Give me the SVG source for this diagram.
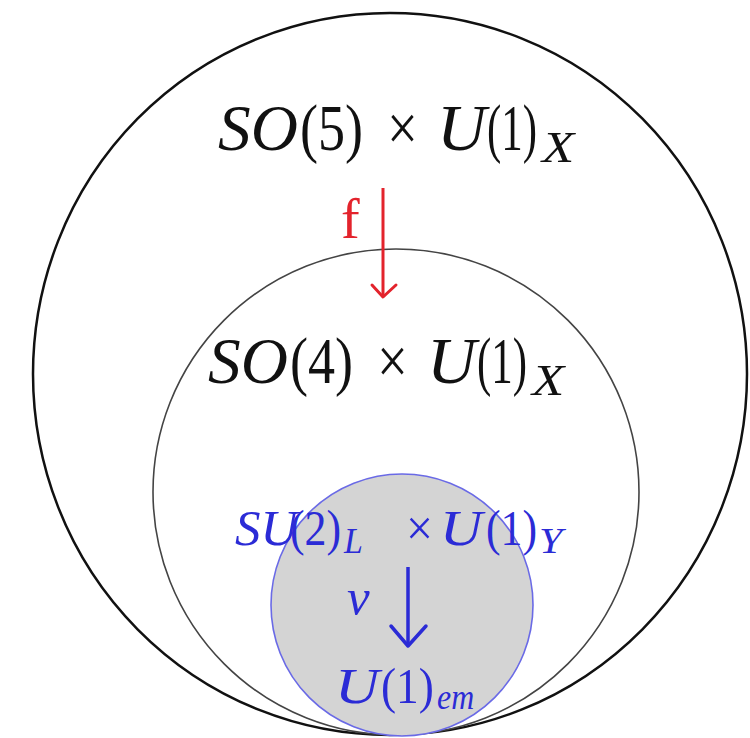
<svg xmlns="http://www.w3.org/2000/svg" width="750" height="738" viewBox="0 0 750 738">
<style>
.t{font-family:"Liberation Serif","DejaVu Serif",serif;}
.i{font-style:italic;}
.blk{fill:#111;font-size:66px;}
.blk.s{font-size:44px;}
.blu{fill:#2b2bd6;font-size:51px;}
.blu.s{font-size:35px;}
.red{fill:#e3232c;}
</style>
<rect width="750" height="738" fill="#fff"/>
<g id="outer">
<ellipse cx="390" cy="374" rx="357" ry="361" fill="none" stroke="#111" stroke-width="2.5"/>
<g id="label-so5">
<text class="t i blk" transform="matrix(0.99,0,0,1,218,150)">SO</text>
<text class="t blk" transform="matrix(0.82,0,0,1,300,150)">(5)</text>
<text class="t blk" transform="matrix(0.83,0,0,1,387,150)">×</text>
<text class="t i blk" transform="matrix(1.03,0,0,1,437,150)">U</text>
<text class="t blk" transform="matrix(0.65,0,0,1,487,150)">(1)</text>
<text class="t i blk s" transform="matrix(1.2,0,0,1,542,162)">X</text>
</g>
</g>
<g id="middle">
<ellipse cx="396" cy="492" rx="243" ry="243" fill="none" stroke="#444" stroke-width="1.6"/>
<g id="label-so4">
<text class="t i blk" transform="matrix(0.99,0,0,1,208,383)">SO</text>
<text class="t blk" transform="matrix(0.82,0,0,1,290,383)">(4)</text>
<text class="t blk" transform="matrix(0.83,0,0,1,377,383)">×</text>
<text class="t i blk" transform="matrix(1.03,0,0,1,427,383)">U</text>
<text class="t blk" transform="matrix(0.65,0,0,1,477,383)">(1)</text>
<text class="t i blk s" transform="matrix(1.2,0,0,1,532,395)">X</text>
</g>
</g>
<g id="inner">
<ellipse cx="402" cy="605" rx="131" ry="131" fill="#d4d4d4" stroke="#6a6ae6" stroke-width="1.6"/>
<g id="label-su2">
<text class="t i blu" transform="matrix(1,0,0,1,235,545)">SU</text>
<text class="t blu" transform="matrix(0.86,0,0,1,290,545)">(2)</text>
<text class="t i blu s" transform="matrix(0.97,0,0,1,344,553)">L</text>
<text class="t blu" transform="matrix(0.94,0,0,1,406,545)">×</text>
<text class="t i blu" transform="matrix(1.15,0,0,1,440,545)">U</text>
<text class="t blu" transform="matrix(0.86,0,0,1,486,545)">(1)</text>
<text class="t i blu s" transform="matrix(1.2,0,0,1,539,553)">Y</text>
</g>
<g id="label-u1em">
<text class="t i blu" transform="matrix(1.2,0,0,1,335,703)">U</text>
<text class="t blu" transform="matrix(0.89,0,0,1,381,703)">(1)</text>
<text class="t i blu s" transform="matrix(0.91,0,0,1,437,709)">em</text>
</g>
</g>
<g id="connectors">
<g id="f-arrow">
<line x1="383" y1="188" x2="383" y2="297" stroke="#e3232c" stroke-width="3"/>
<polyline points="372,285 383,297 396,285" fill="none" stroke="#e3232c" stroke-width="3" stroke-linecap="round" stroke-linejoin="round"/>
<text class="t red" font-size="56" x="341" y="238">f</text>
</g>
<g id="v-arrow">
<line x1="408" y1="567" x2="408" y2="646" stroke="#2b2bd6" stroke-width="3.5"/>
<polyline points="391,626 408,646 426,626" fill="none" stroke="#2b2bd6" stroke-width="3.5" stroke-linecap="round" stroke-linejoin="round"/>
<text class="t i blu" x="347" y="614">v</text>
</g>
</g>
</svg>
